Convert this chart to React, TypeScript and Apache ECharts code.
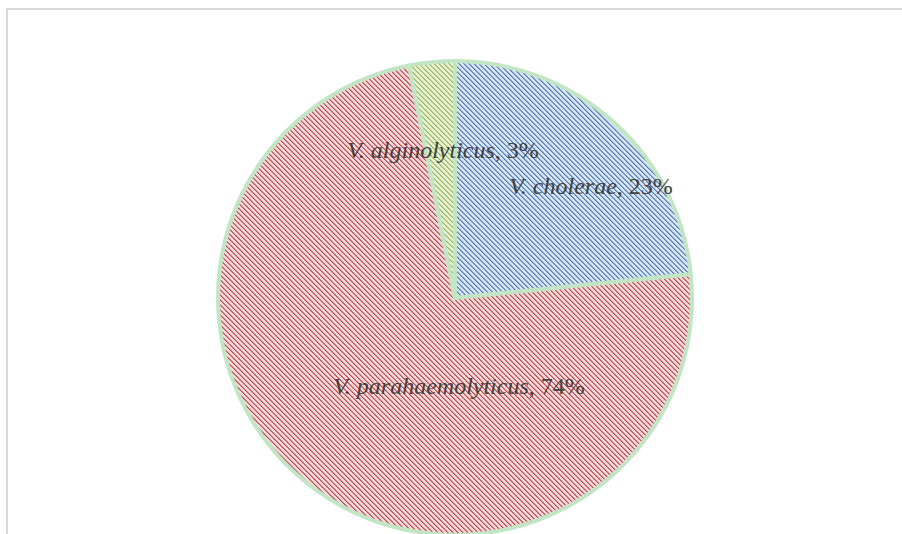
import React, { useEffect, useRef } from "react";
import * as echarts from "echarts";

const categories = ["V. cholerae", "V. parahaemolyticus", "V. alginolyticus"];
const values = [23.4, 73.5, 3.1];
const fillColors = [
  { bg: "#dae4f1", dark: "#4a7bbd", mid: "#8eadd6" },
  { bg: "#f3d9d9", dark: "#c0454a", mid: "#dc8d8f" },
  { bg: "#e9f0da", dark: "#92b64d", mid: "#bfd596" },
];
const labelCenters = [
  [591, 186],
  [459, 386],
  [443, 150],
];

function makeTile(bg: string, dark: string, mid: string) {
  const n = 10;
  const c = document.createElement("canvas");
  c.width = n;
  c.height = n;
  const ctx = c.getContext("2d")!;
  ctx.fillStyle = bg;
  ctx.fillRect(0, 0, n, n);
  for (let y = 0; y < n; y++) {
    for (let x = 0; x < n; x++) {
      const k = (((x - y) % 5) + 5) % 5;
      if (k === 0) {
        ctx.fillStyle = dark;
        ctx.fillRect(x, y, 1, 1);
      } else if (k === 1) {
        ctx.fillStyle = mid;
        ctx.fillRect(x, y, 1, 1);
      }
    }
  }
  return { image: c, repeat: "repeat", imageWidth: n, imageHeight: n };
}

export default function App() {
  const ref = useRef<HTMLDivElement>(null);
  useEffect(() => {
    if (!ref.current) return;
    const chart = echarts.init(ref.current, null, { renderer: "svg" });
    const data = categories.map((name, i) => ({
      name,
      value: values[i],
      itemStyle: {
        color: makeTile(fillColors[i].bg, fillColors[i].dark, fillColors[i].mid) as any,
      },
    }));
    chart.setOption({
      animation: false,
      backgroundColor: "#ffffff",
      graphic: [
        {
          type: "rect",
          shape: { x: 7, y: 9, width: 1000, height: 1000 },
          style: { fill: "none", stroke: "#d9d9d9", lineWidth: 2 },
          silent: true,
        },
      ],
      series: [
        {
          type: "pie",
          center: [455, 298],
          radius: 237,
          startAngle: 90,
          clockwise: true,
          percentPrecision: 0,
          silent: true,
          itemStyle: { borderColor: "#c2e6c4", borderWidth: 4 },
          label: {
            show: true,
            position: "inside",
            formatter: (p: any) => `{i|${p.name}}{n|, ${p.percent}%}`,
            rich: {
              i: {
                fontFamily: "Liberation Serif",
                fontStyle: "italic",
                fontSize: 24,
                color: "#404040",
              },
              n: {
                fontFamily: "Liberation Serif",
                fontSize: 24,
                color: "#404040",
              },
            },
          },
          labelLine: { show: false },
          labelLayout: (params: any) => {
            const [x, y] = labelCenters[params.dataIndex];
            return { x, y, align: "center", verticalAlign: "middle" };
          },
          emphasis: { disabled: true },
          data,
        },
      ],
    });
    return () => chart.dispose();
  }, []);
  return (
    <div
      ref={ref}
      style={{ position: "absolute", left: 0, top: 0, width: 902, height: 534 }}
    />
  );
}
